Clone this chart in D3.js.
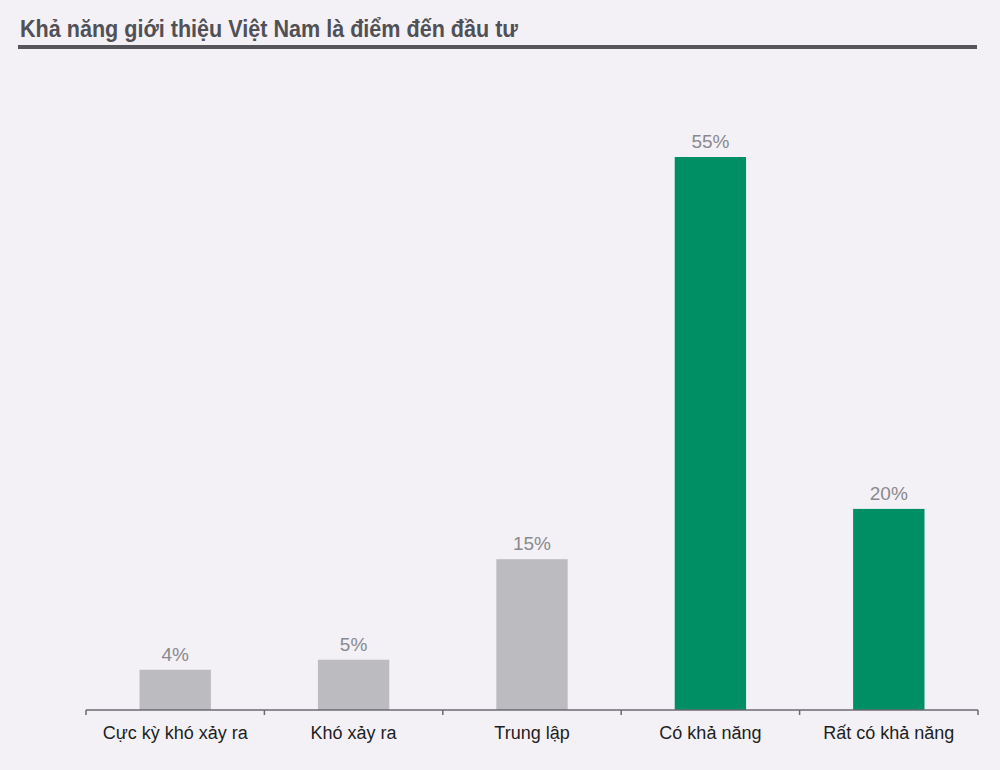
<!DOCTYPE html>
<html>
<head>
<meta charset="utf-8">
<script src="https://cdn.jsdelivr.net/npm/d3@7"></script>
<style>
  html, body { margin: 0; padding: 0; background: #f3f1f5; }
  svg { display: block; font-family: "Liberation Sans", Arial, sans-serif; }
</style>
</head>
<body>
<svg id="chart"></svg>
<script>
    const title = "Khả năng giới thiệu Việt Nam là điểm đến đầu tư";
    const categories = ["Cực kỳ khó xảy ra", "Khó xảy ra", "Trung lập", "Có khả năng", "Rất có khả năng"];
    const values = [4, 5, 15, 55, 20];
    const barColors = ["#bcbbc0", "#bcbbc0", "#bcbbc0", "#008f64", "#008f64"];

    const width = 1000, height = 770;
    const margin = { top: 157, right: 22, bottom: 60, left: 86 };

    const svg = d3.select("#chart")
        .attr("width", width)
        .attr("height", height);

    svg.append("rect")
        .attr("width", width)
        .attr("height", height)
        .attr("fill", "#f3f1f5");

    // title + rule
    svg.append("text")
        .attr("x", 20)
        .attr("y", 37)
        .attr("fill", "#505056")
        .attr("textLength", 498)
        .attr("lengthAdjust", "spacingAndGlyphs")
        .style("font-size", "23px")
        .style("font-weight", "bold")
        .text(title);

    svg.append("line")
        .attr("x1", 18).attr("x2", 977)
        .attr("y1", 47).attr("y2", 47)
        .attr("stroke", "#56555b")
        .attr("stroke-width", 4);

    const x = d3.scaleBand()
        .domain(categories)
        .range([margin.left, width - margin.right])
        .padding(0);

    const y = d3.scaleLinear()
        .domain([0, 55])
        .range([height - margin.bottom, margin.top]);

    const barW = x.bandwidth() * 0.4;

    svg.selectAll("rect.bar")
        .data(categories)
        .enter()
        .append("rect")
        .attr("class", "bar")
        .attr("x", d => x(d) + (x.bandwidth() - barW) / 2)
        .attr("width", barW)
        .attr("y", (d, i) => y(values[i]))
        .attr("height", (d, i) => y(0) - y(values[i]))
        .attr("fill", (d, i) => barColors[i]);

    svg.selectAll("text.val")
        .data(categories)
        .enter()
        .append("text")
        .attr("class", "val")
        .attr("x", d => x(d) + x.bandwidth() / 2)
        .attr("y", (d, i) => y(values[i]) - 9)
        .attr("text-anchor", "middle")
        .attr("fill", "#8a898e")
        .style("font-size", "19px")
        .text((d, i) => values[i] + "%");

    // x axis with ticks at band boundaries
    const axisG = svg.append("g")
        .attr("transform", `translate(0,${y(0)})`);

    axisG.append("line")
        .attr("x1", margin.left).attr("x2", width - margin.right)
        .attr("stroke", "#6a6a70")
        .attr("stroke-width", 1.5);

    const bounds = categories.map(c => x(c)).concat([x.range()[1]]);
    axisG.selectAll("line.tick")
        .data(bounds)
        .enter()
        .append("line")
        .attr("class", "tick")
        .attr("x1", d => d).attr("x2", d => d)
        .attr("y1", 0).attr("y2", 5)
        .attr("stroke", "#6a6a70")
        .attr("stroke-width", 1.5);

    axisG.selectAll("text.cat")
        .data(categories)
        .enter()
        .append("text")
        .attr("class", "cat")
        .attr("x", d => x(d) + x.bandwidth() / 2)
        .attr("y", 29)
        .attr("text-anchor", "middle")
        .attr("fill", "#1e1e22")
        .style("font-size", "18px")
        .text(d => d);
</script>
</body>
</html>
